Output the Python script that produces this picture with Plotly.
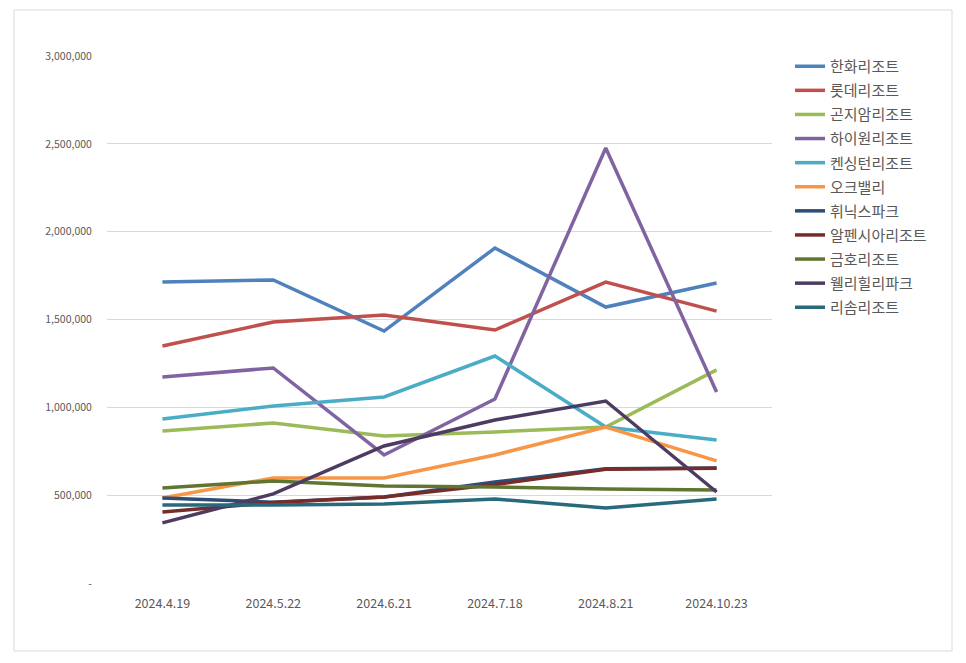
import plotly.graph_objects as go

# Data
dates = ["2024.4.19", "2024.5.22", "2024.6.21", "2024.7.18", "2024.8.21", "2024.10.23"]

hanwha = [1713000, 1725000, 1434000, 1907000, 1571000, 1708000]
lotte = [1349000, 1486000, 1526000, 1440000, 1713000, 1548000]
konjiam = [865000, 911000, 837000, 860000, 888000, 1213000]
high1 = [1173000, 1224000, 729000, 1047000, 2476000, 1087000]
kensington = [934000, 1008000, 1059000, 1292000, 888000, 814000]
oakvalley = [484000, 598000, 598000, 729000, 888000, 695000]
phoenix = [484000, 460000, 490000, 575000, 650000, 655000]
alpensia = [404000, 458000, 489000, 560000, 648000, 653000]
kumho = [541000, 581000, 552000, 547000, 535000, 529000]
welli = [342000, 507000, 780000, 928000, 1036000, 518000]
risom = [444000, 444000, 450000, 478000, 427000, 478000]

series = [
    ("한화리조트", hanwha, "#4F81BD"),
    ("롯데리조트", lotte, "#C0504D"),
    ("곤지암리조트", konjiam, "#9BBB59"),
    ("하이원리조트", high1, "#8064A2"),
    ("켄싱턴리조트", kensington, "#4BACC6"),
    ("오크밸리", oakvalley, "#F79646"),
    ("휘닉스파크", phoenix, "#2C4D75"),
    ("알펜시아리조트", alpensia, "#772C2A"),
    ("금호리조트", kumho, "#5F7530"),
    ("웰리힐리파크", welli, "#4D3B62"),
    ("리솜리조트", risom, "#276A7C"),
]

y_ticks = [0, 500000, 1000000, 1500000, 2000000, 2500000, 3000000]
y_labels = ["-", "500,000", "1,000,000", "1,500,000", "2,000,000", "2,500,000", "3,000,000"]

FONT = "Noto Sans CJK KR, Malgun Gothic, sans-serif"

fig = go.Figure()
for name, vals, color in series:
    fig.add_trace(go.Scatter(
        x=dates, y=vals, name=name, mode="lines", legendgroup=name,
        line=dict(color=color, width=3.5),
    ))

# page body has an 8px margin, so the figure starts at (8, 8)
OFF = 8
W, H = 966 - OFF, 663 - OFF
# plot area in page pixels: x 107..772, y 56..583
L, T = 107 - OFF, 56 - OFF
R, B = W - (772 - OFF), H - (583 - OFF)
pw, ph = W - L - R, H - T - B


def px_x(x):
    return (x - OFF - L) / pw


def px_y(y):
    return 1 - (y - OFF - T) / ph


fig.update_layout(
    width=W, height=H,
    margin=dict(l=L, r=R, t=T, b=B),
    paper_bgcolor="white", plot_bgcolor="white",
    font=dict(family=FONT, color="#595959", size=10),
    xaxis=dict(
        type="category", range=[-0.5, 5.5], showgrid=False, zeroline=False,
        showline=False, tickfont=dict(size=12.5, color="#595959"),
        ticks="outside", ticklen=0, ticklabelstandoff=9,
    ),
    yaxis=dict(
        range=[0, 3000000], tickvals=y_ticks, ticktext=y_labels,
        showgrid=True, gridcolor="#D9D9D9", gridwidth=1, zeroline=False,
        showline=False, tickfont=dict(size=10.5, color="#595959"),
        ticks="outside", ticklen=0, ticklabelstandoff=12,
    ),
    legend=dict(
        x=px_x(790), y=px_y(50), xanchor="left", yanchor="top",
        font=dict(family=FONT, size=15, color="#595959"),
        itemwidth=30, tracegroupgap=1.6, bgcolor="rgba(0,0,0,0)",
    ),
    shapes=[dict(
        type="rect", xref="paper", yref="paper",
        x0=px_x(14), x1=px_x(952), y0=px_y(651), y1=px_y(10),
        line=dict(color="#D9D9D9", width=1), layer="below",
    )],
)

fig.write_html("out.html")
